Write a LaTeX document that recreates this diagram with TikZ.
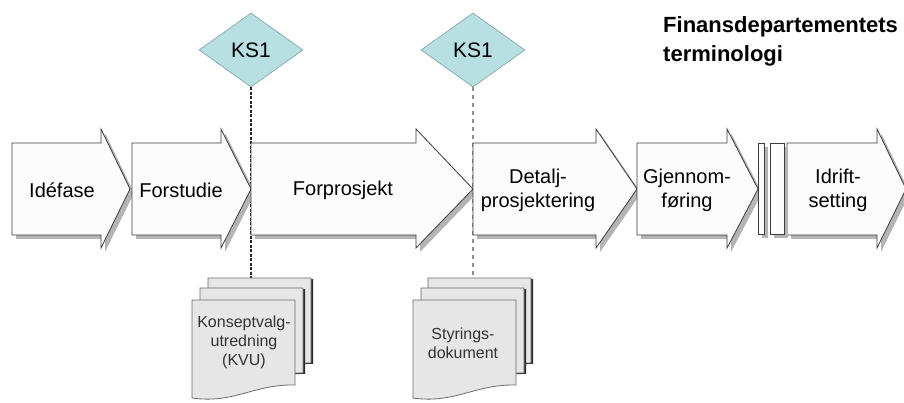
\documentclass[tikz,border=0pt]{standalone}
\usepackage{fontspec}
\setmainfont{Liberation Sans}
\usetikzlibrary{shapes.geometric}
\definecolor{phaseline}{HTML}{3C3C3C}
\definecolor{phasefill}{HTML}{FCFCFC}
\definecolor{phaseshade}{HTML}{B4B4B4}
\definecolor{gatefill}{HTML}{B8DFE2}
\definecolor{gateline}{HTML}{8AAEB3}
\definecolor{pagefill}{HTML}{E6E6E6}
\definecolor{pageline}{HTML}{6A6A6A}
\definecolor{pageshade}{HTML}{2A2A2A}
\definecolor{linkgray}{HTML}{8C8C8C}

\tikzset{
  phase/.style={draw=phaseline, fill=phasefill, line width=0.8pt},
  phasetext/.style={font=\fontsize{20}{24}\selectfont, align=center, inner sep=0pt},
  gate/.style={diamond, aspect=1.4, minimum width=104pt, minimum height=74pt, inner sep=0pt,
    draw=gateline, fill=gatefill, line width=0.8pt, font=\fontsize{21}{25}\selectfont},
  doctext/.style={font=\fontsize{16}{19}\selectfont, align=center, text=black!80, inner sep=0pt},
  pics/page/.style={code={
    \filldraw[draw=pageline, fill=pagefill, line width=0.8pt]
      (0,0) -- (103,0) -- (103,85) .. controls (62,84) and (42,104) .. (0,98) -- cycle;
  }},
  pics/backpage/.style={code={
    \fill[pageshade, shift={(2,1)}]
      (0,0) -- (103,0) -- (103,85) .. controls (62,84) and (42,104) .. (0,98) -- cycle;
    \pic {page};
  }},
}

\begin{document}
\begin{tikzpicture}[x=1pt, y=-1pt]
  \useasboundingbox (0,0) rectangle (904,403);

  % decision gates and their links down to the documents
  \node[gate] (ksA) at (251,50) {KS1};
  \node[gate] (ksB) at (473,50) {KS1};
  \coordinate (kvutop) at (251,278);
  \coordinate (styrtop) at (473,278);
  \draw[black!85, line width=1.3pt, dash pattern=on 3pt off 1.5pt] (ksA.south) -- (kvutop);
  \draw[linkgray, line width=1.3pt, dash pattern=on 4pt off 4pt] (ksB.south) -- (styrtop);

  % phase arrows: left edge / neck / tip
  \foreach \l/\n/\t in {12/101/130, 132/221/251, 251/416/473, 473/596/637, 637/727/758, 787/877/906}{
    \fill[phaseshade, shift={(4,4)}]
      (\l,143) -- (\n,143) -- (\n,129) -- (\t,189) -- (\n,248) -- (\n,235) -- (\l,235) -- cycle;
    \filldraw[phase]
      (\l,143) -- (\n,143) -- (\n,129) -- (\t,189) -- (\n,248) -- (\n,235) -- (\l,235) -- cycle;
  }
  \fill[phaseshade] (762,147) rectangle (768,238);
  \fill[phaseshade] (774,147) rectangle (788,238);
  \filldraw[phase] (758,143) rectangle (764,234);
  \filldraw[phase] (770,143) rectangle (784,234);

  \node[phasetext] (idefase) at (62,190) {Idéfase};
  \node[phasetext] (forstudie) at (181,190) {Forstudie};
  \node[phasetext] (forprosjekt) at (343,190) {Forprosjekt};
  \node[phasetext] (detalj) at (538,190) {Detalj-\\prosjektering};
  \node[phasetext] (gjennom) at (687,190) {Gjennom-\\føring};
  \node[phasetext] (idrift) at (838,190) {Idrift-\\setting};

  % document stacks
  \pic at (208,278) {backpage};
  \pic at (200,288) {backpage};
  \pic at (192,300) {page};
  \node[doctext] (kvu) at (244,342) {Konseptvalg-\\utredning\\(KVU)};

  \pic at (428,278) {backpage};
  \pic at (421,288) {backpage};
  \pic at (413,300) {page};
  \node[doctext] (styring) at (463,343) {Styrings-\\dokument};

  \node[anchor=north west, align=left, inner sep=0pt, font=\fontsize{22}{29}\selectfont\bfseries]
    (title) at (663,16) {Finansdepartementets\\terminologi};
\end{tikzpicture}
\end{document}
